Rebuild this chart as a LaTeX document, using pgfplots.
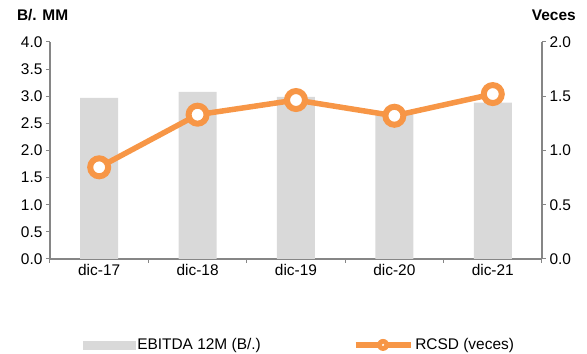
\documentclass[border=0pt]{standalone}
\usepackage{fontspec}
\setmainfont{Liberation Sans}
\usepackage{pgfplots}
\pgfplotsset{compat=1.18}
\definecolor{barc}{HTML}{D9D9D9}
\definecolor{orc}{HTML}{F79646}
\definecolor{axc}{HTML}{868686}
\begin{document}
\begin{tikzpicture}
\pgfplotsset{
  common/.style={
    scale only axis, width=492bp, height=217bp,
    xmin=-0.5, xmax=4.5,
    /pgf/number format/assume math mode=true,
    tick label style={font=\fontsize{15.5}{17}\selectfont, text=black},
    axis line style={axc, line width=1.1pt},
    tick style={axc, line width=1pt},
    major tick length=4bp,
    tick align=outside,
  }
}
\begin{axis}[common, clip=false,
  axis x line*=bottom, axis y line*=left,
  ymin=0, ymax=4, ytick={0,0.5,...,4},
  yticklabel style={/pgf/number format/.cd, fixed, fixed zerofill, precision=1},
  xtick={-0.5,0.5,1.5,2.5,3.5,4.5}, xticklabels={},
  extra x ticks={0,1,2,3,4},
  extra x tick labels={dic-17,dic-18,dic-19,dic-20,dic-21},
  extra x tick style={major tick length=0pt, tick label style={yshift=-2bp}},
]
\addplot[ybar, bar width=38bp, fill=barc, draw=none] coordinates {(0,2.97) (1,3.08) (2,2.99) (3,2.72) (4,2.88)};
\coordinate (bl) at (rel axis cs:-0.1016,-0.4378);
\coordinate (tr) at (rel axis cs:1.0915,1.1935);
\node[font=\bfseries\fontsize{15.5}{17}\selectfont, anchor=center] at (rel axis cs:-0.015,1.124) {B/. MM};
\node[font=\bfseries\fontsize{15.5}{17}\selectfont, anchor=center] at (rel axis cs:1.024,1.124) {Veces};
\end{axis}
\begin{axis}[common, clip=false,
  axis x line=none, axis y line*=right,
  ymin=0, ymax=2, ytick={0,0.5,...,2},
  yticklabel style={/pgf/number format/.cd, fixed, fixed zerofill, precision=1},
  legend style={at={(0.507,-0.396)}, anchor=center, draw=none, fill=none,
    legend columns=2, font=\fontsize{15.5}{17}\selectfont,
    /tikz/every even column/.append style={column sep=90bp}},
]
\addlegendimage{legend image code/.code={\fill[barc] (0bp,-4bp) rectangle (52bp,4bp);}}
\addlegendentry{EBITDA 12M (B/.)}
\addplot[orc, line width=5.5bp, mark=*, mark size=9bp,
  mark options={fill=white, draw=orc, line width=6bp},
  legend image code/.code={\draw[orc, line width=5.5bp] (0bp,0bp) -- (55bp,0bp);
    \path[fill=orc, draw=none] (27.5bp,0bp) circle[radius=6bp];
    \path[fill=white, draw=none] (27.5bp,0bp) circle[radius=1.2bp];}]
  coordinates {(0,0.845) (1,1.33) (2,1.465) (3,1.32) (4,1.52)};
\addlegendentry{RCSD (veces)}
\end{axis}
\pgfresetboundingbox
\useasboundingbox (bl) rectangle (tr);
\end{tikzpicture}
\end{document}
